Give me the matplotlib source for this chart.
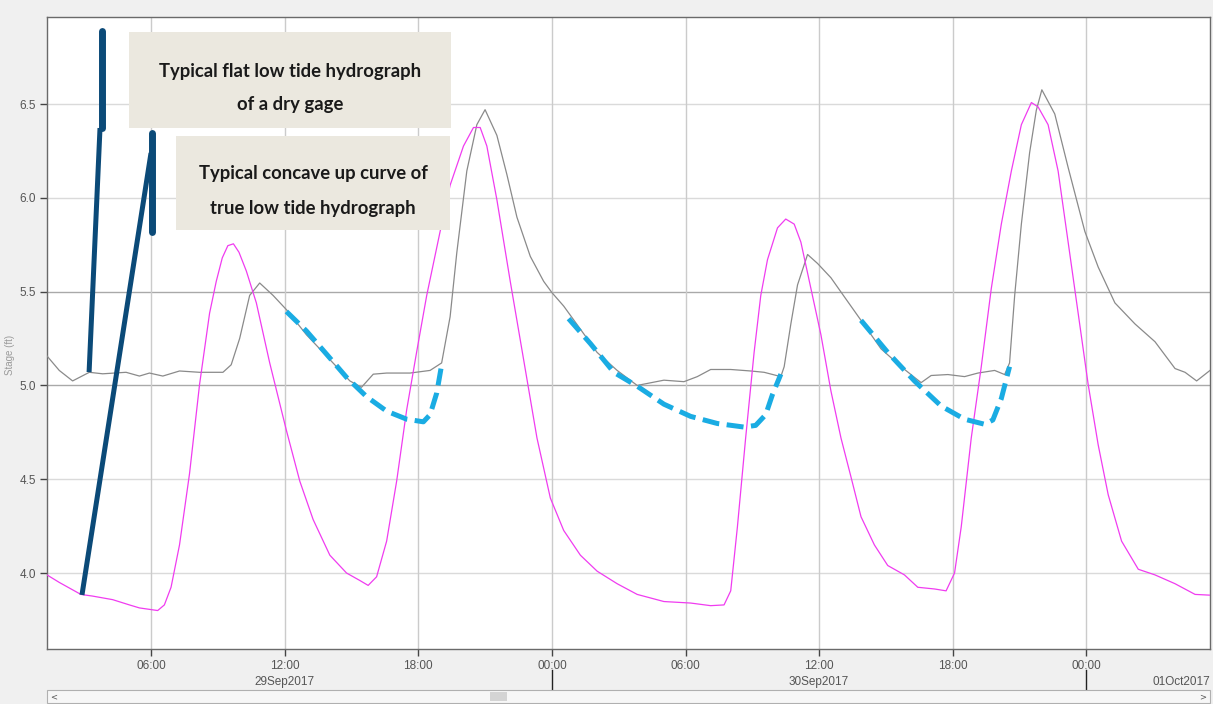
import matplotlib.pyplot as plt
from matplotlib.patches import Rectangle
import matplotlib.transforms as mtrans

# x values are hours since 29Sep2017 00:00
tide_h = [1.33, 1.88, 2.85, 3.38, 4.28, 5.03, 5.48, 6.3, 6.6, 6.9, 7.28, 7.73, 8.18, 8.63, 8.93,
          9.2, 9.45, 9.7, 9.95, 10.28, 10.73, 11.33, 12.08, 12.68, 13.28, 14.03, 14.78, 15.38, 15.75,
          16.13, 16.58, 17.03, 17.48, 17.93, 18.38, 18.98, 19.43, 20.03, 20.48, 20.78, 21.08,
          21.53, 22.13, 22.73, 23.33, 23.93, 24.53, 25.28, 26.03, 26.93, 27.83, 29.03, 30.23,
          31.13, 31.73, 32.03, 32.33, 32.7, 33.08, 33.38, 33.68, 34.13, 34.5, 34.88, 35.18,
          35.63, 36.08, 36.53, 36.98, 37.43, 37.88, 38.48, 39.08, 39.83, 40.43, 41.18, 41.7,
          42.08, 42.38, 42.83, 43.28, 43.73, 44.18, 44.63, 45.08, 45.53, 45.83, 46.28, 46.73,
          47.18, 47.63, 48.08, 48.53, 48.98, 49.58, 50.33, 51.08, 51.98, 52.88, 53.55]
tide_v = [3.99, 3.95, 3.886, 3.877, 3.858, 3.83, 3.814, 3.80, 3.83, 3.924, 4.15, 4.53, 5.005, 5.385,
          5.555, 5.68, 5.745, 5.755, 5.71, 5.61, 5.44, 5.12, 4.76, 4.49, 4.285, 4.095, 4.0, 3.96, 3.934,
          3.98, 4.17, 4.49, 4.87, 5.18, 5.48, 5.82, 6.067, 6.276, 6.375, 6.375, 6.276, 5.99, 5.555,
          5.138, 4.72, 4.40, 4.227, 4.095, 4.01, 3.943, 3.886, 3.848, 3.84, 3.826, 3.83, 3.905,
          4.246, 4.72, 5.176, 5.48, 5.67, 5.84, 5.887, 5.86, 5.764, 5.517, 5.27, 4.97, 4.72, 4.512,
          4.30, 4.15, 4.04, 3.99, 3.924, 3.915, 3.905, 4.0, 4.246, 4.72, 5.1, 5.517, 5.86, 6.143,
          6.39, 6.508, 6.485, 6.39, 6.143, 5.764, 5.385, 5.005, 4.683, 4.417, 4.17, 4.02, 3.99,
          3.943, 3.886, 3.882]

gage_h = [1.33, 1.88, 2.48, 3.23, 3.83, 4.88, 5.48, 5.93, 6.53, 7.28, 8.18, 9.23, 9.6, 9.98,
          10.43, 10.88, 11.48, 12.08, 12.98, 14.03, 14.93, 15.45, 15.98, 16.58, 17.63, 18.53,
          19.05, 19.43, 19.73, 20.18, 20.63, 21.0, 21.53, 21.98, 22.43, 23.03, 23.63, 24.0, 24.53,
          25.28, 26.03, 26.93, 27.83, 29.03, 29.93, 30.53, 31.13, 32.03, 32.93, 33.53, 34.28,
          34.43, 34.73, 35.03, 35.48, 35.93, 36.53, 36.98, 37.88, 38.78, 39.68, 40.28, 40.58,
          41.03, 41.78, 42.53, 43.13, 43.88, 44.33, 44.55, 44.78, 45.08, 45.45, 45.75, 46.0,
          46.58, 47.18, 47.93, 48.53, 49.28, 50.18, 51.08, 51.98, 52.43, 52.95, 53.55]
gage_v = [5.157, 5.08, 5.024, 5.07, 5.062, 5.07, 5.05, 5.066, 5.05, 5.077, 5.07, 5.07, 5.11, 5.25,
          5.48, 5.546, 5.48, 5.404, 5.27, 5.138, 5.024, 4.99, 5.06, 5.066, 5.066, 5.08, 5.12,
          5.366, 5.707, 6.143, 6.39, 6.47, 6.333, 6.124, 5.897, 5.688, 5.555, 5.495, 5.423, 5.30,
          5.176, 5.08, 5.0, 5.028, 5.02, 5.047, 5.085, 5.085, 5.077, 5.07, 5.047, 5.10, 5.328,
          5.536, 5.698, 5.65, 5.574, 5.498, 5.347, 5.195, 5.10, 5.043, 5.015, 5.053, 5.058, 5.047,
          5.066, 5.08, 5.058, 5.12, 5.48, 5.86, 6.24, 6.466, 6.576, 6.447, 6.162, 5.821, 5.631,
          5.44, 5.328, 5.233, 5.09, 5.07, 5.024, 5.08]

# hand drawn "true" low tide curves (dashed)
curve1_h = [12.08, 12.98, 13.88, 14.78, 15.68, 16.58, 17.48, 18.23, 18.53, 18.83, 19.05]
curve1_v = [5.394, 5.29, 5.167, 5.043, 4.94, 4.863, 4.82, 4.806, 4.844, 4.96, 5.11]
curve2_h = [24.75, 25.73, 26.78, 27.83, 29.03, 30.23, 31.43, 32.63, 33.15, 33.6, 33.9, 34.28]
curve2_v = [5.356, 5.223, 5.07, 4.996, 4.90, 4.835, 4.797, 4.778, 4.787, 4.844, 4.95, 5.06]
curve3_h = [37.88, 39.08, 40.28, 41.48, 42.53, 43.43, 43.8, 44.18, 44.55]
curve3_v = [5.347, 5.176, 5.024, 4.89, 4.82, 4.793, 4.816, 4.93, 5.1]

# callout pointers
ptr1_h, ptr1_v = [3.22, 3.71], [5.071, 6.372]
bar1_h, bar1_v = [3.80, 3.80], [6.372, 6.889]
ptr2_h, ptr2_v = [2.90, 6.0], [3.883, 6.239]
bar2_h, bar2_v = [6.045, 6.045], [5.818, 6.345]

box1_text = "Typical flat low tide hydrograph\nof a dry gage"
box2_text = "Typical concave up curve of\ntrue low tide hydrograph"

tick_hours = [6, 12, 18, 24, 30, 36, 42, 48]
tick_labels = ["06:00", "12:00", "18:00", "00:00", "06:00", "12:00", "18:00", "00:00"]
day_hours = [12, 36]
day_labels = ["29Sep2017", "30Sep2017"]
y_ticks = [4.0, 4.5, 5.0, 5.5, 6.0, 6.5]

fig = plt.figure(figsize=(12.13, 7.04), dpi=100, facecolor='#f0f0f0')
ax = fig.add_axes([47 / 1213, 1 - 649 / 704, (1210 - 47) / 1213, (649 - 17) / 704])
ax.set_facecolor('white')

ax.set_xlim(1.33, 53.55)
ax.set_ylim(3.595, 6.964)

# grid
for y in y_ticks:
    c = '#a9a9a9' if y in (5.0, 5.5) else '#dadada'
    ax.axhline(y, color=c, lw=1, zorder=1)
for h in tick_hours:
    ax.axvline(h, color='#cbcbcb', lw=1, zorder=1)

ax.plot(gage_h, gage_v, color='#8a8a8a', lw=0.9, zorder=3)
ax.plot(tide_h, tide_v, color='#f03cf0', lw=0.9, zorder=3)

for ch, cv in [(curve1_h, curve1_v), (curve2_h, curve2_v), (curve3_h, curve3_v)]:
    ax.plot(ch, cv, color='#1aace3', lw=3.6, dashes=(3.4, 1.5), dash_capstyle='butt', zorder=4)

# text boxes
ax.add_patch(Rectangle((5.01, 6.372), 19.47 - 5.01, 6.884 - 6.372, facecolor='#ebe8df',
                       edgecolor='none', zorder=5))
ax.add_patch(Rectangle((7.12, 5.828), 19.43 - 7.12, 6.329 - 5.828, facecolor='#ebe8df',
                       edgecolor='none', zorder=5))
ax.text((5.01 + 19.47) / 2, 6.5 + (104 - 88) / 187.6, box1_text, ha='center', va='center',
        family='Lato', weight='bold', fontsize=13.3, color='#1a1a1a', linespacing=2.15, zorder=6)
ax.text((7.12 + 19.43) / 2, 6.5 - (191 - 104) / 187.6, box2_text, ha='center', va='center',
        family='Lato', weight='bold', fontsize=13.3, color='#1a1a1a', linespacing=2.3, zorder=6)

# pointers
pc = '#0b4a78'
ax.plot(ptr1_h, ptr1_v, color=pc, lw=3.6, solid_capstyle='butt', zorder=7)
ax.plot(bar1_h, bar1_v, color=pc, lw=5, solid_capstyle='round', zorder=7)
ax.plot(ptr2_h, ptr2_v, color=pc, lw=3.6, solid_capstyle='butt', zorder=7)
ax.plot(bar2_h, bar2_v, color=pc, lw=5, solid_capstyle='round', zorder=7)

# axes styling
for s in ax.spines.values():
    s.set_color('#6a6a6a')
    s.set_linewidth(1)
ax.set_xticks(tick_hours)
ax.set_xticklabels(tick_labels)
ax.set_yticks(y_ticks)
ax.set_yticklabels([f"{y:.1f}" for y in y_ticks])
ax.tick_params(axis='both', direction='out', length=5, width=1, color='#444444',
               labelcolor='#555555', labelsize=8.5, pad=3)
for lab in ax.get_xticklabels() + ax.get_yticklabels():
    lab.set_family('Liberation Sans')

trans = mtrans.blended_transform_factory(ax.transData, ax.transAxes)
for h, lab in zip(day_hours, day_labels):
    ax.text(h, -0.052, lab, transform=trans, ha='center', va='center', fontsize=8.5,
            color='#555555', family='Liberation Sans')
ax.text(1.0, -0.052, "01Oct2017", transform=ax.transAxes, ha='right', va='center',
        fontsize=8.5, color='#555555', family='Liberation Sans', clip_on=False)
for h in [24, 48]:
    ax.plot([h, h], [-0.033, -0.066], transform=trans, color='#222222', lw=1, clip_on=False)

fig.text(10 / 1213, 1 - 355 / 704, "Stage (ft)", rotation=90, ha='center', va='center',
         fontsize=7, color='#9a9a9a', family='Liberation Sans')

# scroll bar under the chart
fig.patches.append(Rectangle((47 / 1213, 1 - 703 / 704), (1210 - 47) / 1213, 13 / 704,
                             transform=fig.transFigure, facecolor='#f7f7f7', edgecolor='#b0b0b0',
                             lw=0.8))
fig.patches.append(Rectangle((490 / 1213, 1 - 701 / 704), 17 / 1213, 9 / 704,
                             transform=fig.transFigure, facecolor='#d4d4d4', edgecolor='none'))
fig.text(54 / 1213, 1 - 697 / 704, "<", fontsize=6, color='#555555', ha='center', va='center')
fig.text(1203 / 1213, 1 - 697 / 704, ">", fontsize=6, color='#555555', ha='center', va='center')

fig.savefig('out.png', dpi=100, facecolor=fig.get_facecolor())
